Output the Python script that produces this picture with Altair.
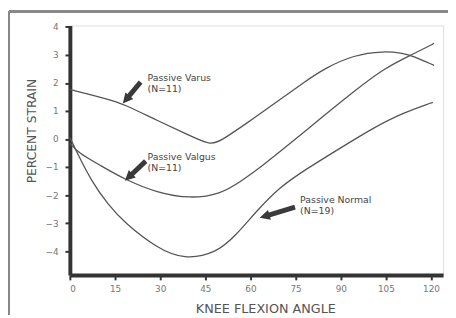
import math
import altair as alt
import pandas as pd

# ---- data ----
varus_x = [0, 12.7, 17.6, 29, 40, 47, 51, 58.5, 68.3, 78.1, 84.6, 94.4, 104.2, 110.8, 114, 121]
varus_y = [1.77, 1.42, 1.26, 0.66, 0.12, -0.25, 0.0, 0.54, 1.29, 2.05, 2.52, 3.0, 3.14, 3.06, 2.96, 2.63]

valgus_x = [0, 2.9, 9.5, 18.3, 29, 40, 50, 57, 64, 71.6, 84.6, 94.4, 104.2, 114, 121]
valgus_y = [-0.15, -0.5, -0.9, -1.45, -1.92, -2.13, -1.97, -1.5, -0.95, -0.3, 0.85, 1.7, 2.51, 3.03, 3.41]

normal_x = [0, 2.9, 7.2, 12.7, 18.3, 29, 38, 48.7, 55.2, 61.8, 69.3, 78.1, 90.2, 101, 110.8, 120.6]
normal_y = [0.05, -0.6, -1.5, -2.35, -3.0, -3.9, -4.3, -4.07, -3.43, -2.6, -1.75, -1.1, -0.3, 0.41, 0.94, 1.31]

label_line1 = ["Passive Varus", "Passive Valgus", "Passive Normal"]
label_line2 = ["(N=11)", "(N=11)", "(N=19)"]
label_x = [25.8, 25.8, 76.5]
label_y1 = [2.18, -0.65, -2.19]
label_y2 = [1.8, -1.03, -2.57]

arrow_tail_x = [23.5, 25.2, 74.8]
arrow_tail_y = [2.03, -0.79, -2.43]
arrow_tip_x = [17.6, 18.3, 63.1]
arrow_tip_y = [1.27, -1.49, -2.81]

x_ticks = [0, 15, 30, 45, 60, 75, 90, 105, 120]
y_ticks = [-4, -3, -2, -1, 0, 1, 2, 3, 4]

X_DOMAIN = [0, 124]
Y_DOMAIN = [-4.85, 4.05]
W, H = 380, 254

# ---- tables ----
rows = []
for name, xs, ys in [("Varus", varus_x, varus_y), ("Valgus", valgus_x, valgus_y), ("Normal", normal_x, normal_y)]:
    for a, v in zip(xs, ys):
        rows.append({"series": name, "angle": a, "strain": v})
curves = pd.DataFrame(rows)

labels = pd.DataFrame({
    "t": label_line1 + label_line2,
    "x": label_x + label_x,
    "y": label_y1 + label_y2,
})

pxx = W / (X_DOMAIN[1] - X_DOMAIN[0])
pxy = H / (Y_DOMAIN[1] - Y_DOMAIN[0])
shaft_rows, head_rows = [], []
for i, (tx, ty, hx, hy) in enumerate(zip(arrow_tail_x, arrow_tail_y, arrow_tip_x, arrow_tip_y)):
    dx = (hx - tx) * pxx
    dy = -(hy - ty) * pxy
    L = math.hypot(dx, dy)
    ux, uy = dx / L, dy / L
    back = 6.0
    cx = hx - ux * back / pxx
    cy = hy + uy * back / pxy
    ang = math.degrees(math.atan2(dx, -dy)) % 360
    shaft_rows.append({"id": i, "ord": 0, "x": tx, "y": ty})
    shaft_rows.append({"id": i, "ord": 1, "x": cx, "y": cy})
    head_rows.append({"x": cx, "y": cy, "ang": ang})
shafts = pd.DataFrame(shaft_rows)
heads = pd.DataFrame(head_rows)

xs = alt.Scale(domain=X_DOMAIN, nice=False, zero=False)
ys = alt.Scale(domain=Y_DOMAIN, nice=False, zero=False)

x_axis = alt.Axis(values=x_ticks, title="KNEE FLEXION ANGLE", grid=False,
                  domainColor="#333333", domainWidth=4, tickColor="#333333",
                  tickWidth=2, tickSize=5, labelColor="#777777", labelFontSize=9,
                  labelFont="DejaVu Sans", labelPadding=5, labelOverlap=False,
                  titleFont="DejaVu Sans", titleFontSize=13, titleFontWeight="normal",
                  titleColor="#555555", titleX=199, titleY=34, titleBaseline="middle")
y_axis = alt.Axis(values=y_ticks, title="PERCENT STRAIN", grid=False,
                  domainColor="#333333", domainWidth=4, tickColor="#333333",
                  tickWidth=2, tickSize=5, labelColor="#777777", labelFontSize=9,
                  labelFont="DejaVu Sans", labelPadding=7, labelOverlap=False,
                  titleFont="DejaVu Sans", titleFontSize=12.5, titleFontWeight="normal",
                  titleColor="#555555", titleX=-39, titleY=107, titleBaseline="middle")

lines = alt.Chart(curves).mark_line(color="#555555", strokeWidth=1.3, interpolate="basis").encode(
    x=alt.X("angle:Q", scale=xs, axis=x_axis),
    y=alt.Y("strain:Q", scale=ys, axis=y_axis),
    detail="series:N",
)

texts = alt.Chart(labels).mark_text(align="left", baseline="middle", font="DejaVu Sans",
                                    fontSize=9.5, color="#444444").encode(
    x=alt.X("x:Q", scale=xs, axis=x_axis), y=alt.Y("y:Q", scale=ys, axis=y_axis), text="t:N")

shaft = alt.Chart(shafts).mark_line(color="#3a3a3a", strokeWidth=5).encode(
    x=alt.X("x:Q", scale=xs, axis=x_axis), y=alt.Y("y:Q", scale=ys, axis=y_axis),
    detail="id:N", order="ord:Q")

head = alt.Chart(heads).mark_point(shape="M0,-1L-0.85,0.7L0.85,0.7Z", filled=True, opacity=1,
                                   color="#3a3a3a", size=150).encode(
    x=alt.X("x:Q", scale=xs, axis=x_axis), y=alt.Y("y:Q", scale=ys, axis=y_axis),
    angle=alt.Angle("ang:Q", scale=None))

frame_left = alt.Chart(curves).mark_rule(color="#888888", strokeWidth=2).encode(
    x=alt.value(-62), y=alt.value(-14), y2=alt.value(H + 40))
frame_top = alt.Chart(curves).mark_rule(color="#888888", strokeWidth=2).encode(
    x=alt.value(-62), x2=alt.value(W + 10), y=alt.value(-14))

chart = alt.layer(lines, shaft, head, texts, frame_left, frame_top).properties(
    width=W, height=H,
    autosize=alt.AutoSizeParams(type="none"),
    padding={"left": 63, "top": 15, "right": 5, "bottom": 40},
).configure_view(stroke=None).configure(background="white")

chart.save("out.html", embed_options={"renderer": "svg", "actions": False})
